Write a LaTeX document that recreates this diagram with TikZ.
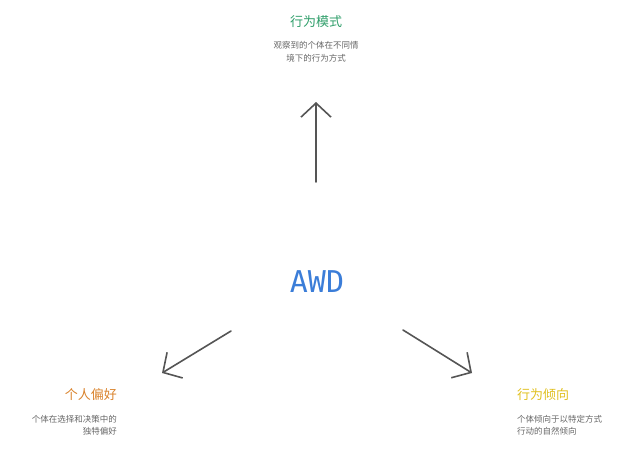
\documentclass[tikz,border=0pt]{standalone}
\usepackage{fontspec}
\newfontfamily\cjk{Noto Sans CJK SC}
\newfontfamily\mono{DejaVu Sans Mono}
\usetikzlibrary{arrows.meta}
\definecolor{cgreen}{HTML}{2F9E6A}
\definecolor{corange}{HTML}{D9822B}
\definecolor{cyellow}{HTML}{E0C020}
\definecolor{cblue}{HTML}{3B7DD8}
\definecolor{cgray}{HTML}{555555}
\begin{document}
\begin{tikzpicture}[x=1pt,y=-1pt,
  ttl/.style={font=\cjk\fontsize{13}{15}\selectfont, inner sep=0},
  dsc/.style={font=\cjk\fontsize{8.5}{12.5}\selectfont, text=cgray!90, inner sep=0},
  arr/.style={draw=cgray, line width=1.6pt, line cap=round, -{Straight Barb[length=14pt,width=30pt,line width=1.6pt]}}]
\useasboundingbox (0,0) rectangle (628,450);
\node[ttl, text=cgreen] (t1) at (316,22) {行为模式};
\node[dsc, align=center] (d1) at (316,52) {观察到的个体在不同情\\境下的行为方式};
\node[ttl, text=corange, anchor=east] (t2) at (117,395) {个人偏好};
\node[dsc, align=right, anchor=east] (d2) at (117,425) {个体在选择和决策中的\\独特偏好};
\node[ttl, text=cyellow, anchor=west] (t3) at (517,395) {行为倾向};
\node[dsc, align=left, anchor=west] (d3) at (517,425) {个体倾向于以特定方式\\行动的自然倾向};
\node[font=\mono\fontsize{30}{32}\selectfont, text=cblue, inner sep=0] (awd) at (317,282) {AWD};
\coordinate (a1s) at (316,182); \coordinate (a1e) at (316,102);
\coordinate (a2s) at (231,331); \coordinate (a2e) at (162,373);
\coordinate (a3s) at (403,330); \coordinate (a3e) at (472,373);
\draw[arr] (a1s) -- (a1e);
\draw[arr] (a2s) -- (a2e);
\draw[arr] (a3s) -- (a3e);
\end{tikzpicture}
\end{document}
